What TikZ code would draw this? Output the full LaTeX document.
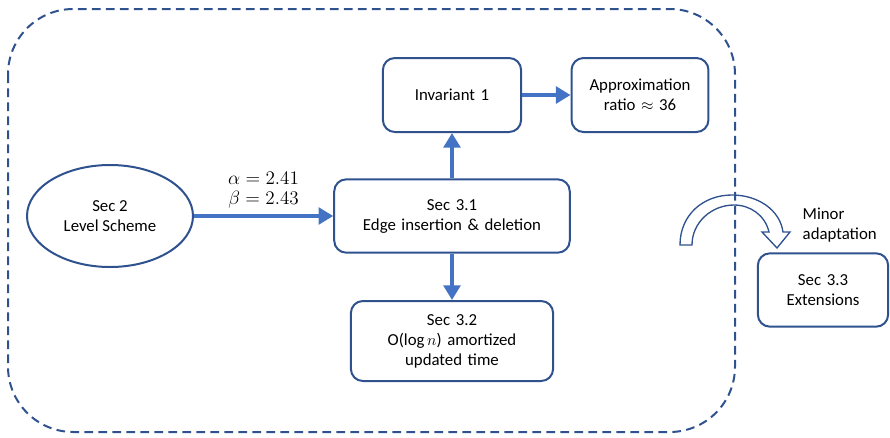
\documentclass[tikz,border=0pt]{standalone}
\usepackage{fontspec}
\setmainfont{Carlito}
\usetikzlibrary{shapes,arrows.meta}
\definecolor{boxblue}{RGB}{47, 82, 143}
\definecolor{arrowblue}{RGB}{68, 114, 196}
\tikzstyle{block} = [rectangle, draw=boxblue, line width=1.5pt, fill=white,
    text width=9em, align=center, rounded corners=9pt, font=\fontsize{12.6}{15}\selectfont]
\tikzstyle{oval} = [ellipse, draw=boxblue, line width=1.5pt, fill=white, align=center,
    minimum width=124.5pt, minimum height=76.5pt, font=\fontsize{12.6}{15}\selectfont]
\tikzstyle{line} = [draw=arrowblue, line width=3.6pt, -{Triangle[length=11pt,width=12.5pt]}]
\tikzstyle{frame} = [draw=boxblue, line width=1.5pt, dash pattern=on 6.5pt off 4pt,
    rounded corners=49pt]

\begin{document}
\begin{tikzpicture}[x=0.75pt, y=-0.75pt, node distance=3cm]
  \useasboundingbox (0,0) rectangle (890,437);
  \draw [frame] (8,9) rectangle (735,432);
  \node [oval] (level_scheme) at (110,216) {Sec 2\\Level Scheme};
  \node [block, right of=level_scheme, node distance=256.5pt, text width=170pt,
    minimum height=55pt] (sec_31) {Sec 3.1\\Edge insertion \& deletion};
  \path [line] (level_scheme) -- node[above=1pt, align=center, font=\fontsize{13.5}{15}\selectfont]
    {$\alpha=2.41$\\$\beta=2.43$} (sec_31);
  \node [block, above of=sec_31, node distance=90.75pt, text width=97pt,
    minimum height=55.5pt] (invariant) {Invariant 1};
  \path [line] (sec_31) -- (invariant);
  \node [block, right of=invariant, node distance=141pt, text width=96pt,
    minimum height=55.5pt] (approx_ratio) {Approximation\\ratio $\approx$ 36};
  \path [line] (invariant) -- (approx_ratio);
  \node [block, below of=sec_31, node distance=93.75pt, text width=145pt,
    minimum height=60pt] (sec_32) {Sec 3.2\\O($\log n$) amortized\\updated time};
  \path [line] (sec_31) -- (sec_32);
  \node [block, text width=91pt, minimum height=55pt] (sec_33) at (823,290) {Sec 3.3\\Extensions};
  \node [anchor=west, align=left, font=\fontsize{12.6}{15}\selectfont] (minor) at (798,225) {Minor\\adaptation};
  % hollow curved arrow
  \draw [boxblue, line width=1pt, line join=miter]
    (680,245) .. controls (680,215) and (703,195) .. (732,195)
    .. controls (758,195) and (780,210) .. (783,232) -- (790,232) -- (777,248) -- (762,232)
    -- (769,232) .. controls (765,215) and (750,205) .. (734,205)
    .. controls (712,205) and (692,222) .. (692,245) -- cycle;
\end{tikzpicture}
\end{document}
